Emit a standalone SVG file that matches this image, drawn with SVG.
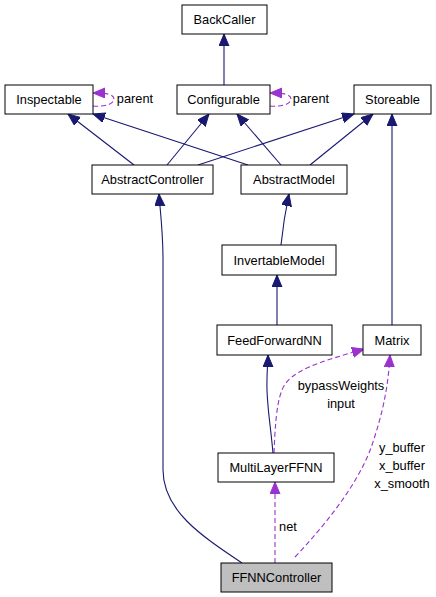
<svg xmlns="http://www.w3.org/2000/svg" width="436" height="597" viewBox="0 0 436 597">
<style>
.n rect{fill:#fff;stroke:#000;stroke-width:1}
.n text,.lbl{font-family:"Liberation Sans",Arial,sans-serif;font-size:12.8px;fill:#000;text-anchor:middle}
.inh{fill:none;stroke:#191970;stroke-width:1.1}
.use{fill:none;stroke:#9a32cd;stroke-width:1.1;stroke-dasharray:5,3}
</style>
<defs>
<marker id="an" markerUnits="userSpaceOnUse" markerWidth="14" markerHeight="12" refX="12" refY="5" orient="auto">
<path d="M0,0 L12,5 L0,10 z" fill="#191970" stroke="#191970" stroke-width="1"/>
</marker>
<marker id="ap" markerUnits="userSpaceOnUse" markerWidth="14" markerHeight="12" refX="12" refY="5" orient="auto">
<path d="M0,0 L12,5 L0,10 z" fill="#9a32cd" stroke="#9a32cd" stroke-width="1"/>
</marker>
</defs>
<rect width="436" height="597" fill="#fff"/>
<g id="connectors">
<path class="inh" d="M224,85 L224,34" marker-end="url(#an)"/>
<path class="use" d="M93,106 C105,107 114,104 114,99 C114,94 106,93 93,93" marker-end="url(#ap)"/>
<path class="use" d="M270,106 C282,107 291,104 291,99 C291,94 283,93 270,93" marker-end="url(#ap)"/>
<path class="inh" d="M134,165 L68,114" marker-end="url(#an)"/>
<path class="inh" d="M248,165 L93,114" marker-end="url(#an)"/>
<path class="inh" d="M167,165 L209,114" marker-end="url(#an)"/>
<path class="inh" d="M281,165 L237,114" marker-end="url(#an)"/>
<path class="inh" d="M198,165 L354,114" marker-end="url(#an)"/>
<path class="inh" d="M310,165 L373,114" marker-end="url(#an)"/>
<path class="inh" d="M392,325 L392,114" marker-end="url(#an)"/>
<path class="inh" d="M242,563 C200,535 163,510 163,470 L163,260 C163,230 160,210 159,194" marker-end="url(#an)"/>
<path class="inh" d="M281,245 C283,225 286,208 289,194" marker-end="url(#an)"/>
<path class="inh" d="M277,325 L277,275" marker-end="url(#an)"/>
<path class="inh" d="M273,453 C270,420 266,400 267,380 C267,370 268,362 268,355" marker-end="url(#an)"/>
<path class="use" d="M275,563 L275,482" marker-end="url(#ap)"/>
<path class="use" d="M274,453 C275,430 276,405 282,390 C290,370 320,362 364,349" marker-end="url(#ap)"/>
<path class="use" d="M295,557 C330,520 360,480 372,445 C382,415 388,390 390,355" marker-end="url(#ap)"/>
<text class="lbl" x="135" y="103">parent</text>
<text class="lbl" x="311" y="103">parent</text>
<text class="lbl" x="341" y="390">bypassWeights</text>
<text class="lbl" x="341" y="408">input</text>
<text class="lbl" x="402" y="452">y_buffer</text>
<text class="lbl" x="402" y="470">x_buffer</text>
<text class="lbl" x="402" y="488">x_smooth</text>
<text class="lbl" x="288" y="531">net</text>
</g>
<g id="BackCaller" class="n"><rect x="182" y="5" width="85" height="29"/><text x="224.5" y="24">BackCaller</text></g>
<g id="Inspectable" class="n"><rect x="5" y="85" width="88" height="29"/><text x="49" y="104">Inspectable</text></g>
<g id="Configurable" class="n"><rect x="177" y="85" width="93" height="29"/><text x="223.5" y="104">Configurable</text></g>
<g id="Storeable" class="n"><rect x="354" y="85" width="77" height="29"/><text x="392.5" y="104">Storeable</text></g>
<g id="AbstractController" class="n"><rect x="92" y="165" width="121" height="29"/><text x="152.5" y="184">AbstractController</text></g>
<g id="AbstractModel" class="n"><rect x="241" y="165" width="106" height="29"/><text x="294" y="184">AbstractModel</text></g>
<g id="InvertableModel" class="n"><rect x="222" y="245" width="114" height="30"/><text x="279" y="264.5">InvertableModel</text></g>
<g id="FeedForwardNN" class="n"><rect x="217" y="325" width="115" height="30"/><text x="274.5" y="344.5">FeedForwardNN</text></g>
<g id="Matrix" class="n"><rect x="363" y="325" width="58" height="30"/><text x="392" y="344.5">Matrix</text></g>
<g id="MultiLayerFFNN" class="n"><rect x="218" y="453" width="116" height="29"/><text x="276" y="472">MultiLayerFFNN</text></g>
<g id="FFNNController" class="n"><rect x="221" y="563" width="111" height="29" style="fill:#bfbfbf"/><text x="276.5" y="582">FFNNController</text></g>
</svg>
